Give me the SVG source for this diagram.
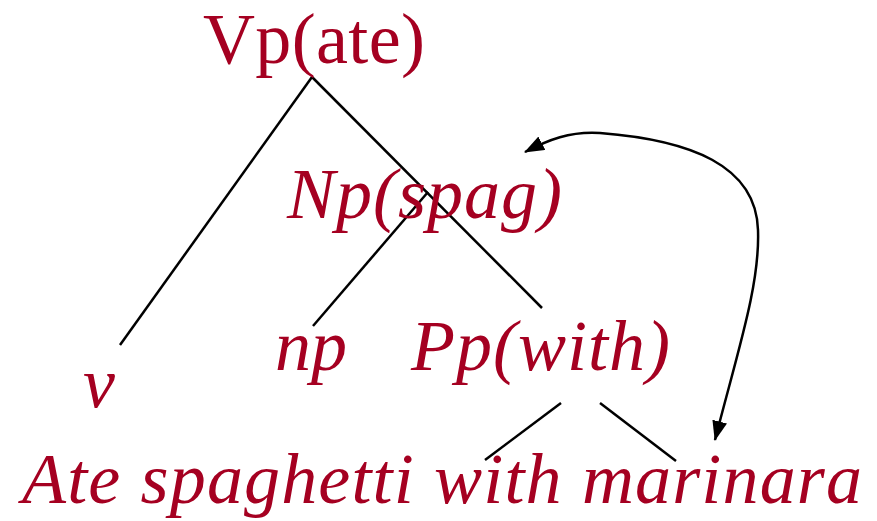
<svg xmlns="http://www.w3.org/2000/svg" width="877" height="521" viewBox="0 0 877 521">
  <style>
    .lbl { font-family: "Liberation Serif", "Times New Roman", serif; font-size: 72px; fill: #a50021; }
    .it { font-style: italic; }
    .edge { stroke: #000; stroke-width: 2.5; fill: none; }
  </style>
  <defs>
    <marker id="head" viewBox="0 0 20 15" refX="19" refY="7.5" markerWidth="20" markerHeight="15" orient="auto-start-reverse" markerUnits="userSpaceOnUse">
      <path d="M0,0 L20,7.5 L0,15 z" fill="#000"/>
    </marker>
  </defs>
  <rect width="877" height="521" fill="#fff"/>

  <g id="connectors">
    <line class="edge" x1="312" y1="77" x2="120" y2="345"/>
    <line class="edge" x1="312" y1="77" x2="542" y2="308"/>
    <line class="edge" x1="428" y1="192" x2="313" y2="326"/>
    <line class="edge" x1="561" y1="403" x2="485" y2="460"/>
    <line class="edge" x1="600" y1="403" x2="676" y2="461"/>
    <path class="edge" d="M715,440 C738,350 760,285 758,230 C756,165 690,140 600,133 C570,131 548,140 525,152" marker-start="url(#head)" marker-end="url(#head)"/>
  </g>

  <g id="vp-ate"><text class="lbl" x="203" y="63" textLength="222" lengthAdjust="spacing">Vp(ate)</text></g>
  <g id="np-spag"><text class="lbl it" x="287" y="218" textLength="275" lengthAdjust="spacing">Np(spag)</text></g>
  <g id="v"><text class="lbl it" x="83" y="407">v</text></g>
  <g id="np"><text class="lbl it" x="275" y="370" textLength="72" lengthAdjust="spacing">np</text></g>
  <g id="pp-with"><text class="lbl it" x="411" y="370" textLength="259" lengthAdjust="spacing">Pp(with)</text></g>
  <g id="sentence"><text class="lbl it" x="22" y="503" textLength="840" lengthAdjust="spacing">Ate spaghetti with marinara</text></g>
</svg>
